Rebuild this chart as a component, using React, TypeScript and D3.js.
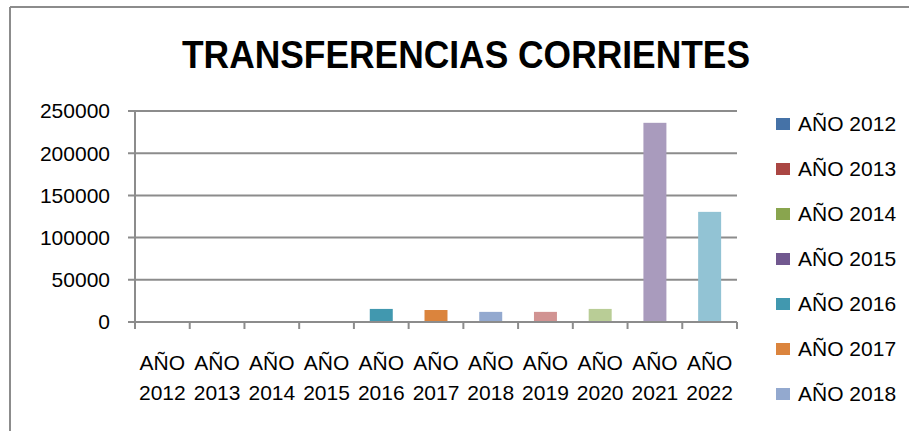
import React from "react";
import * as d3 from "d3";

const categories = ["AÑO 2012","AÑO 2013","AÑO 2014","AÑO 2015","AÑO 2016","AÑO 2017","AÑO 2018","AÑO 2019","AÑO 2020","AÑO 2021","AÑO 2022"];
const values = [0, 0, 0, 0, 15500, 14200, 12000, 12000, 15500, 236000, 130500];
const colors = ["#4572A7","#AA4643","#89A54E","#71588F","#4198AF","#DB843D","#93A9CF","#D19392","#B9CD96","#A99BBD","#92C3D4"];
const yTicks = [0, 50000, 100000, 150000, 200000, 250000];
const legendItems = categories.slice(0, 7);
const title = "TRANSFERENCIAS CORRIENTES";

const W = 909, H = 431;
const FONT = "'Liberation Sans', Arial, sans-serif";

export default function App() {
  const left = 135, right = 737, top = 111, bottom = 322;
  const x = d3.scaleBand<string>().domain(categories).range([left, right]).paddingInner(0.58).paddingOuter(0.29);
  const step = (right - left) / categories.length;
  const y = d3.scaleLinear().domain([0, 250000]).range([bottom, top]);
  const grid = "#8c8c8c";

  return (
    <svg width={W} height={H} style={{ position: "absolute", left: 0, top: 0, background: "#fff" }} fontFamily={FONT}>
      <rect x={0} y={0} width={W} height={H} fill="#fff" />
      {/* frame */}
      <line x1={10} y1={7} x2={W} y2={7} stroke={grid} strokeWidth={2} />
      <line x1={10} y1={7} x2={10} y2={H} stroke={grid} strokeWidth={2} />

      <text x={466} y={68} fontSize={39} fontWeight="bold" textAnchor="middle" textLength={568} lengthAdjust="spacingAndGlyphs" fill="#000">{title}</text>

      {/* gridlines and y ticks */}
      {yTicks.map((t) => (
        <g key={t}>
          <line x1={left - 7} x2={right} y1={y(t)} y2={y(t)} stroke={grid} strokeWidth={2} />
          <text x={110} y={y(t)} dy="0.35em" fontSize={21} textAnchor="end" fill="#000">{t}</text>
        </g>
      ))}
      {/* y axis */}
      <line x1={left} x2={left} y1={top} y2={bottom + 7} stroke={grid} strokeWidth={2} />

      {/* bars */}
      {categories.map((c, i) => (
        <rect key={c} x={x(c)!} width={x.bandwidth()} y={y(values[i])} height={bottom - y(values[i])} fill={colors[i]} />
      ))}

      {/* x axis */}
      <line x1={left} x2={right} y1={bottom} y2={bottom} stroke={grid} strokeWidth={2} />
      {d3.range(categories.length + 1).map((i) => (
        <line key={i} x1={left + i * step} x2={left + i * step} y1={bottom} y2={bottom + 7} stroke={grid} strokeWidth={2} />
      ))}
      {categories.map((c, i) => {
        const cx = left + (i + 0.5) * step;
        const [a, b] = c.split(" ");
        return (
          <g key={c}>
            <text x={cx} y={363} dy="0.35em" fontSize={21} textAnchor="middle" fill="#000">{a}</text>
            <text x={cx} y={393} dy="0.35em" fontSize={21} textAnchor="middle" fill="#000">{b}</text>
          </g>
        );
      })}

      {/* legend */}
      {legendItems.map((c, i) => {
        const cy = 124 + i * 45;
        return (
          <g key={c}>
            <rect x={776} y={cy - 6} width={14} height={12} fill={colors[i]} />
            <text x={798} y={cy} dy="0.35em" fontSize={21} fill="#000">{c}</text>
          </g>
        );
      })}
    </svg>
  );
}
